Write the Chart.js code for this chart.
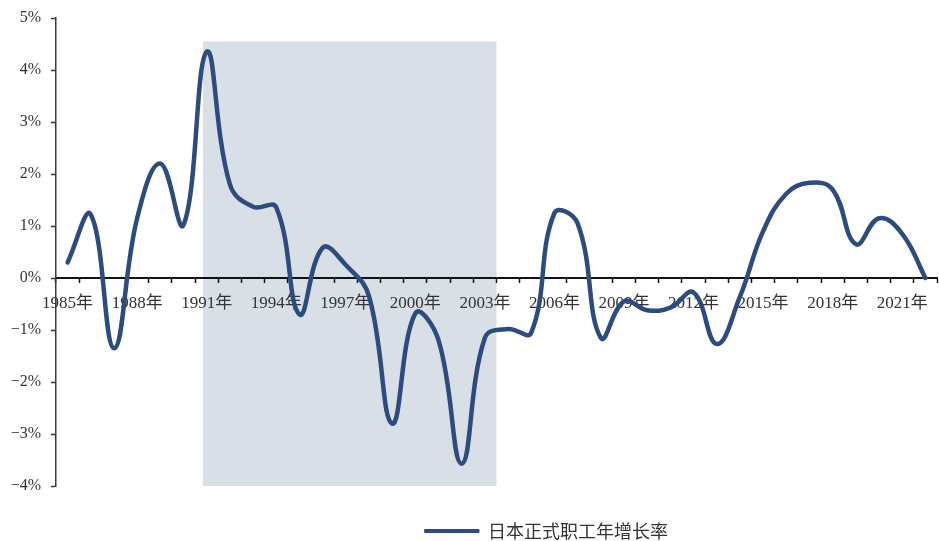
<!DOCTYPE html>
<html>
<head>
<meta charset="utf-8">
<script src="https://cdn.jsdelivr.net/npm/chart.js@4/dist/chart.umd.min.js"></script>
<style>
  html, body { margin: 0; padding: 0; background: #ffffff; }
  #wrap { width: 939px; height: 541px; position: relative; }
</style>
</head>
<body>
<div id="wrap"><canvas id="c" width="939" height="541"></canvas></div>
<script>
// 年份
const years = [
  1985, 1986, 1987, 1988, 1989, 1990, 1991, 1992, 1993, 1994,
  1995, 1996, 1997, 1998, 1999, 2000, 2001, 2002, 2003, 2004,
  2005, 2006, 2007, 2008, 2009, 2010, 2011, 2012, 2013, 2014,
  2015, 2016, 2017, 2018, 2019, 2020, 2021, 2022
];

// 日本正式职工年增长率（%）
const regularEmployeeGrowth = [
   0.30,  1.22, -1.35,  1.15,  2.20,  1.02,  4.35,  1.80,  1.37,  1.36,
  -0.70,  0.58,  0.25, -0.35, -2.80, -0.68, -1.20, -3.57, -1.15, -0.98,
  -1.05,  1.25,  1.05, -1.15, -0.45, -0.62, -0.57, -0.28, -1.27, -0.36,
   0.90,  1.62,  1.83,  1.70,  0.65,  1.15,  0.85,  0.00
];

// 纵轴刻度（%）
const yTicks = [-4, -3, -2, -1, 0, 1, 2, 3, 4, 5];

// 横轴每隔三年标注一次
const labelEvery = 3;

// 阴影区间（年份与百分比）
const shadeStartYear = 1990.84;
const shadeEndYear = 2003.5;
const shadeTop = 4.55;
const shadeBottom = -4;

const seriesName = '日本正式职工年增长率';
const lineColor = '#2c4b7e';
const shadeColor = '#d8dfe7';
const axisColor = '#3a3a3a';
const textColor = '#333333';
const latinCjk = '"Liberation Serif", "Noto Sans CJK SC", serif';

const categoryLabels = years.map(y => y + '年');

// 阴影矩形：按坐标轴换算位置，画在坐标轴之前
const shadePlugin = {
  id: 'shadeBand',
  beforeDraw(chart) {
    const x = chart.scales.x, y = chart.scales.y;
    const x0 = x.getPixelForValue(shadeStartYear - years[0]);
    const x1 = x.getPixelForValue(shadeEndYear - years[0]);
    const y0 = y.getPixelForValue(shadeTop);
    const y1 = y.getPixelForValue(shadeBottom);
    const ctx = chart.ctx;
    ctx.save();
    ctx.fillStyle = shadeColor;
    ctx.fillRect(x0, y0, x1 - x0, y1 - y0);
    ctx.restore();
  }
};

// 图例位置微调：放在图表下方偏右
const legendPlacePlugin = {
  id: 'legendPlace',
  afterLayout(chart) {
    const lg = chart.legend;
    if (!lg || !lg.lineWidths) return;
    const pad = lg.options.labels.padding;
    const startX = ((lg.left + pad) + (lg.right - lg.lineWidths[0])) / 2;
    const dx = 425 - startX;
    const dy = 531 - (lg.top + pad + 9);
    lg.left += dx; lg.right += dx;
    lg.top += dy; lg.bottom += dy;
  }
};

new Chart(document.getElementById('c'), {
  type: 'line',
  data: {
    labels: categoryLabels,
    datasets: [{
      label: seriesName,
      data: regularEmployeeGrowth,
      borderColor: lineColor,
      backgroundColor: lineColor,
      borderWidth: 4.5,
      pointRadius: 0,
      pointHoverRadius: 0,
      tension: 0.42,
      borderCapStyle: 'round',
      borderJoinStyle: 'round',
      fill: false,
      clip: false
    }]
  },
  options: {
    responsive: false,
    animation: false,
    devicePixelRatio: 1,
    layout: { padding: { left: 0, right: 2, top: 0, bottom: 17 } },
    plugins: {
      tooltip: { enabled: false },
      legend: {
        display: true,
        position: 'bottom',
        labels: {
          boxWidth: 54,
          boxHeight: 3,
          padding: 10,
          color: textColor,
          font: { family: '"Noto Sans CJK SC", sans-serif', size: 18 },
          generateLabels(chart) {
            const items = Chart.defaults.plugins.legend.labels.generateLabels(chart);
            items.forEach(it => {
              it.fillStyle = lineColor;
              it.strokeStyle = lineColor;
              it.lineWidth = 1;
            });
            return items;
          }
        }
      }
    },
    scales: {
      x: {
        type: 'category',
        position: { y: 0 },
        offset: true,
        grid: {
          display: true,
          offset: true,
          drawOnChartArea: false,
          drawTicks: true,
          tickLength: 4,
          tickWidth: 1.5,
          tickColor: '#111111'
        },
        border: { display: true, color: '#111111', width: 2 },
        ticks: {
          autoSkip: false,
          maxRotation: 0,
          minRotation: 0,
          padding: 11,
          color: textColor,
          font: { family: latinCjk, size: 17 },
          callback(value, index) {
            return index % labelEvery === 0 ? categoryLabels[index] : '';
          }
        }
      },
      y: {
        type: 'linear',
        min: yTicks[0],
        max: yTicks[yTicks.length - 1],
        afterBuildTicks(scale) {
          scale.ticks = yTicks.map(v => ({ value: v }));
        },
        afterFit(scale) { scale.width = 56; },
        grid: {
          display: true,
          drawOnChartArea: false,
          drawTicks: true,
          tickLength: 5,
          tickWidth: 1.5,
          tickColor: axisColor
        },
        border: { display: true, color: axisColor, width: 1.5 },
        ticks: {
          padding: 10,
          color: textColor,
          font: { family: latinCjk, size: 16, lineHeight: 1 },
          callback(value) {
            return (value < 0 ? '\u2212' + Math.abs(value) : value) + '%';
          }
        }
      }
    }
  },
  plugins: [shadePlugin, legendPlacePlugin]
});
</script>
</body>
</html>
